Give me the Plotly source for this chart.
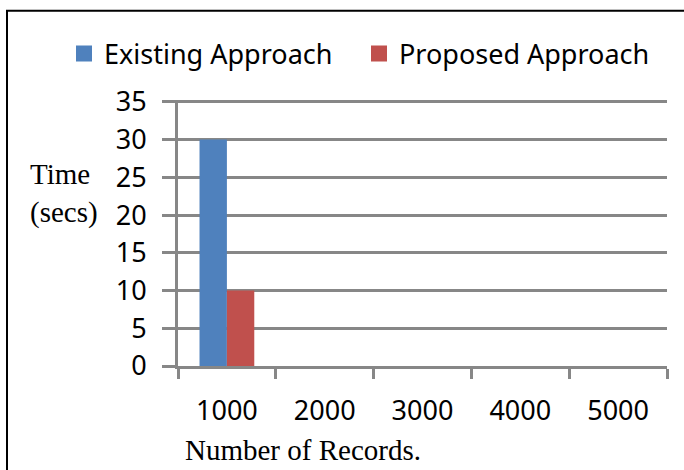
import plotly.graph_objects as go

categories = ["1000", "2000", "3000", "4000", "5000"]
existing = [30, 0, 0, 0, 0]
proposed = [10, 0, 0, 0, 0]
series_names = ["Existing Approach", "Proposed Approach"]
y_ticks = [0, 5, 10, 15, 20, 25, 30, 35]
y_max = 35.25

W, H = 684, 470
L, R, B = 178, 17, 104
ph = (366 - 102) * y_max / 35
T = H - B - ph
pw = W - L - R

def px(x):
    return (x - L) / pw

def py(y):
    return (H - B - y) / ph

grid = "#878787"
sans = "Noto Sans"
serif = "Liberation Serif"
colors = ["#4F81BD", "#C0504D"]

fig = go.Figure()
for vals, name, col in zip([existing, proposed], series_names, colors):
    fig.add_trace(go.Bar(x=categories, y=vals, name=name, showlegend=False,
                         marker=dict(color=col, line=dict(width=0))))
# legend entries (square swatches)
for name, col in zip(series_names, colors):
    fig.add_trace(go.Scatter(x=[None], y=[None], mode="markers", name=name,
                             marker=dict(symbol="square", size=16, color=col,
                                         line=dict(width=0))))

fig.update_layout(
    width=W, height=H,
    margin=dict(l=L, r=R, t=T, b=B, pad=0),
    paper_bgcolor="white", plot_bgcolor="white",
    barmode="group", bargap=0.44, bargroupgap=0,
    showlegend=True,
    legend=dict(orientation="h", x=px(64), y=py(54), xanchor="left", yanchor="middle",
                font=dict(family=sans, size=27, color="black"),
                bgcolor="rgba(0,0,0,0)", itemsizing="trace", tracegroupgap=0,
                entrywidth=250, entrywidthmode="pixels"),
    xaxis=dict(type="category", tickson="boundaries", ticks="outside", ticklen=10,
               tickwidth=3, tickcolor=grid, showgrid=False, showline=True,
               linecolor=grid, linewidth=3, ticklabelstandoff=19,
               tickfont=dict(family=sans, size=27, color="black"), zeroline=False),
    yaxis=dict(range=[0, y_max], tickvals=y_ticks, ticks="outside", ticklen=13,
               tickwidth=3, tickcolor=grid, showgrid=True, gridcolor=grid, gridwidth=3,
               showline=True, linecolor=grid, linewidth=3, zeroline=False,
               ticklabelstandoff=10,
               tickfont=dict(family=sans, size=27, color="black")),
    annotations=[
        dict(text="Time<br>(secs)", x=px(28), y=py(194), xref="paper", yref="paper",
             xanchor="left", yanchor="middle", align="left", showarrow=False,
             font=dict(family=serif, size=29, color="black")),
        dict(text="Number of Records.", x=px(183), y=py(450), xref="paper", yref="paper",
             xanchor="left", yanchor="middle", showarrow=False,
             font=dict(family=serif, size=29, color="black")),
    ],
    shapes=[dict(type="rect", xref="paper", yref="paper",
                 x0=px(7), x1=px(700), y0=py(490), y1=py(11),
                 line=dict(color="black", width=2), layer="below")],
)

fig.write_html("out.html")
